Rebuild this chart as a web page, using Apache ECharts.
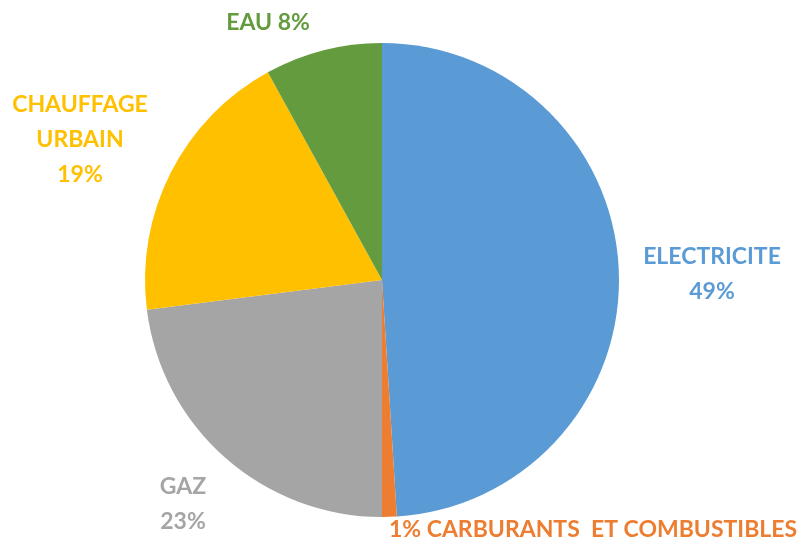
<!DOCTYPE html>
<html>
<head>
<meta charset="utf-8">
<script src="https://cdn.jsdelivr.net/npm/echarts@6/dist/echarts.min.js"></script>
<style>
  html, body { margin: 0; padding: 0; background: #fff; }
  #chart { width: 811px; height: 551px; }
</style>
</head>
<body>
<div id="chart"></div>
<script>
// data
const names = ["ELECTRICITE", "CARBURANTS  ET COMBUSTIBLES", "GAZ", "CHAUFFAGE\nURBAIN", "EAU"];
const values = [49, 1, 23, 19, 8];
const colors = ["#5B9BD5", "#ED7D31", "#A5A5A5", "#FFC000", "#649B3F"];

// label text per slice
const formats = ["{b}\n{c}%", "{c}% {b}", "{b}\n{c}%", "{b}\n{c}%", "{b} {c}%"];
// where each label sits (center of text block)
const labelPos = [[712, 274], [593, 530], [183, 504], [80, 140], [268, 23]];

const chart = echarts.init(document.getElementById("chart"));

const option = {
  animation: false,
  series: [
    {
      type: "pie",
      center: [382, 280],
      radius: 237,
      startAngle: 90,
      clockwise: true,
      labelLine: { show: false },
      label: {
        show: true,
        position: "outside",
        fontFamily: "Lato",
        fontSize: 23,
        fontWeight: "bold",
        lineHeight: 35,
        align: "center",
        overflow: "none",
        width: 500
      },
      labelLayout: function (p) {
        const pos = labelPos[p.dataIndex];
        return { x: pos[0], y: pos[1], align: "center", verticalAlign: "middle" };
      },
      data: names.map(function (n, i) {
        return {
          name: n,
          value: values[i],
          itemStyle: { color: colors[i] },
          label: {
            formatter: formats[i],
            color: colors[i]
          }
        };
      })
    }
  ]
};

chart.setOption(option);
</script>
</body>
</html>
